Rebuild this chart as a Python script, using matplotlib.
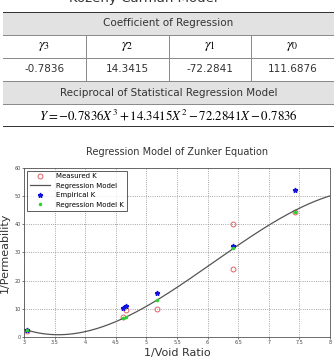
import matplotlib.pyplot as plt
import numpy as np

# regression coefficients (gamma3, gamma2, gamma1, gamma0)
coef_names = ["$\\gamma_3$", "$\\gamma_2$", "$\\gamma_1$", "$\\gamma_0$"]
coef_vals = [-0.7836, 14.3415, -72.2841, 111.6876]
coef_labels = ["-0.7836", "14.3415", "-72.2841", "111.6876"]

# measured / empirical / regression-model K
meas_x = [3.05, 4.62, 4.67, 5.18, 6.42, 6.42, 7.42]
meas_y = [2.0, 7.0, 9.5, 10.0, 40.0, 24.0, 44.5]
emp_x = [3.05, 4.62, 4.67, 5.18, 6.42, 7.42]
emp_y = [2.4, 10.3, 10.8, 15.5, 32.3, 52.3]
reg_x = [3.05, 4.62, 4.67, 5.18, 6.42, 7.42]
reg_y = [2.4, 6.6, 7.0, 13.0, 31.5, 44.5]

plt.rcParams["mathtext.fontset"] = "stix"
fig = plt.figure(figsize=(3.34, 3.58), dpi=100)

# top title (cut off by the edge, as in the source)
fig.text(0.43, 1.003, "Kozeny-Carman Model", ha="center", va="center",
         fontsize=9.5, color="#333333")

# ---- table ----
tb = fig.add_axes([0.009, 0.645, 0.991, 0.322])
tb.set_xlim(0, 4)
tb.set_ylim(0, 5)
tb.axis("off")
for r in (4, 1):
    tb.add_patch(plt.Rectangle((0, r), 4, 1, color="#e2e2e2", lw=0))
for r in (1, 2, 3, 4):
    tb.plot([0, 4], [r, r], color="#888888", lw=0.7)
tb.plot([0, 4], [5, 5], color="#222222", lw=1.3)
tb.plot([0, 4], [0, 0], color="#222222", lw=1.3)
for c in (1, 2, 3):
    tb.plot([c, c], [2, 4], color="#888888", lw=0.7)
tb.text(2, 4.5, "Coefficient of Regression", ha="center", va="center",
        fontsize=7.5, color="#333333")
for i in range(4):
    tb.text(i + 0.5, 3.5, coef_names[i], ha="center", va="center", fontsize=10)
    tb.text(i + 0.5, 2.5, coef_labels[i], ha="center", va="center",
            fontsize=7.5, color="#333333")
tb.text(2, 1.5, "Reciprocal of Statistical Regression Model", ha="center",
        va="center", fontsize=7.5, color="#333333")
tb.text(2, 0.5, "$Y = -0.7836X^3 + 14.3415X^2 - 72.2841X - 0.7836$",
        ha="center", va="center", fontsize=9.3)

# ---- chart ----
ax = fig.add_axes([0.072, 0.059, 0.916, 0.472])
xs = np.linspace(3, 8, 300)
ax.plot(meas_x, meas_y, "o", mfc="none", mec="#e06060", ms=3.5, mew=0.7,
        label="Measured K")
ax.plot(xs, np.polyval(coef_vals, xs), color="#555555", lw=0.9,
        label="Regression Model")
ax.plot(emp_x, emp_y, "*", color="#1010e0", ms=3.5, label="Empirical K")
ax.plot(reg_x, reg_y, ".", color="#30d030", ms=3, label="Regression Model K")
ax.set_xlim(3, 8)
ax.set_ylim(0, 60)
ax.set_xticks(np.arange(3, 8.01, 0.5))
ax.set_xticklabels(["3", "3.5", "4", "4.5", "5", "5.5", "6", "6.5", "7", "7.5", "8"])
ax.set_yticks(range(0, 61, 10))
ax.tick_params(labelsize=3.5, length=1.5, width=0.5, pad=1, colors="#444444")
ax.grid(True, ls=":", color="#888888", lw=0.6)
for s in ax.spines.values():
    s.set_linewidth(0.6)
    s.set_color("#555555")
ax.set_title("Regression Model of Zunker Equation", fontsize=7, pad=9,
             color="#333333")
ax.set_xlabel("1/Void Ratio", fontsize=8, labelpad=2, color="#333333")
ax.set_ylabel("1/Permeability", fontsize=8, labelpad=3, color="#333333")
leg = ax.legend(loc="upper left", fontsize=5, frameon=True, fancybox=False,
                edgecolor="#333333", borderaxespad=0.4, handlelength=3,
                labelspacing=0.5)
leg.get_frame().set_linewidth(0.7)

fig.savefig("out.png", dpi=100)
